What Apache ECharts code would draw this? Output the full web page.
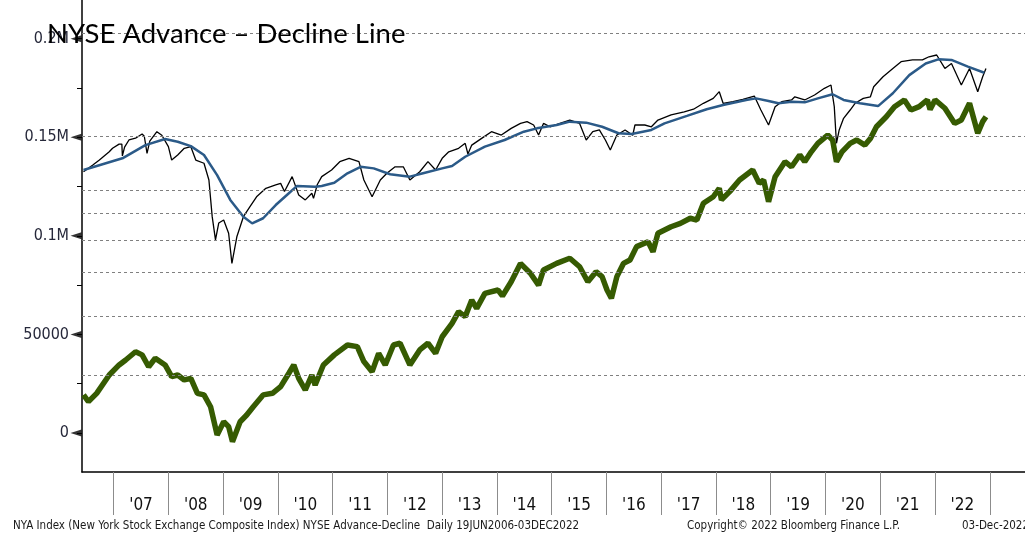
<!DOCTYPE html>
<html>
<head>
<meta charset="utf-8">
<title>NYSE Advance – Decline Line</title>
<script src="https://cdn.jsdelivr.net/npm/echarts@6.0.0/dist/echarts.min.js"></script>
<style>
  html, body { margin: 0; padding: 0; background: #fff; }
  #chart { width: 1025px; height: 542px; }
</style>
</head>
<body>
<div id="chart"></div>
<script>
// values in thousands, dates as decimal years

// NYA index (scaled onto the left axis) - black
var nyaDates = [2006.45,2006.62,2006.74,2006.92,2006.98,2007.10,2007.15,2007.16,2007.20,2007.28,
    2007.40,2007.52,2007.56,2007.61,2007.66,2007.79,2007.88,2008.00,2008.06,2008.17,
    2008.29,2008.41,2008.50,2008.65,2008.74,2008.80,2008.86,2008.92,2009.01,2009.10,
    2009.16,2009.25,2009.37,2009.49,2009.61,2009.78,2009.96,2010.05,2010.12,2010.26,
    2010.38,2010.50,2010.62,2010.65,2010.72,2010.80,2010.98,2011.13,2011.30,2011.48,
    2011.57,2011.72,2011.87,2011.99,2012.14,2012.29,2012.41,2012.59,2012.74,2012.88,
    2013.00,2013.12,2013.30,2013.42,2013.47,2013.54,2013.72,2013.90,2014.08,2014.26,
    2014.43,2014.55,2014.67,2014.76,2014.85,2014.97,2015.15,2015.33,2015.51,2015.63,
    2015.75,2015.87,2015.98,2016.07,2016.19,2016.34,2016.48,2016.52,2016.70,2016.82,
    2016.94,2017.18,2017.42,2017.59,2017.77,2017.95,2018.06,2018.13,2018.31,2018.49,
    2018.70,2018.82,2018.96,2019.08,2019.20,2019.38,2019.44,2019.62,2019.80,2019.98,
    2020.10,2020.16,2020.20,2020.25,2020.33,2020.45,2020.54,2020.69,2020.82,2020.88,
    2021.05,2021.23,2021.38,2021.59,2021.77,2021.89,2022.03,2022.18,2022.30,2022.48,
    2022.63,2022.78,2022.87,2022.93];
var nyaValues = [132.5,135.9,138.4,142.6,144.4,146.5,146.5,140.5,145.0,148.6,
    149.5,151.6,150.5,141.8,148.0,152.8,151.0,145.2,138.4,141.0,
    144.4,145.2,138.4,136.8,128.3,109.7,97.9,106.5,108.0,101.3,
    86.0,99.5,109.7,114.8,119.8,124.1,125.8,126.6,122.5,130.0,
    120.7,118.2,121.6,119.0,126.0,130.0,133.4,137.6,139.3,137.6,
    128.3,119.8,128.3,131.7,135.0,135.0,128.3,132.5,137.6,133.4,
    139.3,142.6,144.4,146.9,141.5,146.0,149.4,152.8,151.1,154.5,
    157.0,157.9,156.2,151.1,157.0,155.3,157.0,158.7,157.0,148.6,
    152.8,153.7,148.6,143.5,151.1,153.7,151.0,156.2,156.2,155.3,
    158.7,161.3,162.9,164.2,167.2,169.7,173.1,167.2,168.0,169.2,
    170.9,163.8,156.2,165.5,168.0,168.9,170.5,168.9,171.4,174.8,
    176.5,165.5,146.9,153.7,159.6,163.8,167.2,169.7,170.5,175.6,
    180.7,184.9,188.3,189.2,189.2,190.8,191.7,184.9,187.4,176.5,
    184.9,173.1,180.7,184.9];

// moving average of NYA - blue
var maDates = [2006.45,2007.16,2007.58,2007.94,2008.17,2008.41,2008.65,2008.89,2009.13,2009.37,
    2009.53,2009.73,2009.96,2010.20,2010.35,2010.68,2010.80,2011.03,2011.27,2011.51,
    2011.75,2012.05,2012.41,2012.65,2013.00,2013.18,2013.42,2013.78,2014.14,2014.49,
    2014.73,2015.09,2015.33,2015.63,2015.92,2016.22,2016.46,2016.82,2017.06,2017.47,
    2017.83,2018.13,2018.55,2018.73,2018.96,2019.14,2019.38,2019.62,2019.86,2020.13,
    2020.33,2020.63,2020.96,2021.23,2021.53,2021.83,2022.06,2022.30,2022.60,2022.90];
var maValues = [133.4,139.3,146.0,149.1,147.7,145.5,141.0,130.8,118.2,109.7,
    106.3,108.9,115.6,121.6,125.3,124.9,125.3,126.9,131.7,135.0,
    134.2,131.2,130.0,131.7,134.2,135.4,140.1,145.2,148.6,152.8,
    154.5,156.2,157.9,157.4,155.3,152.0,151.6,153.7,157.0,160.8,
    164.2,166.3,168.9,169.7,168.4,167.2,168.0,167.7,169.7,171.8,
    168.9,167.2,165.8,172.3,181.5,187.4,189.5,189.2,185.8,182.7];

// NYSE advance-decline line - green
var adDates = [2006.45,2006.54,2006.69,2006.92,2007.10,2007.22,2007.40,2007.52,2007.64,2007.76,
    2007.94,2008.06,2008.17,2008.29,2008.41,2008.53,2008.65,2008.77,2008.89,2009.01,
    2009.10,2009.17,2009.31,2009.43,2009.55,2009.73,2009.90,2010.05,2010.20,2010.29,
    2010.38,2010.50,2010.62,2010.68,2010.83,2011.03,2011.27,2011.45,2011.57,2011.72,
    2011.84,2011.96,2012.11,2012.23,2012.41,2012.59,2012.74,2012.88,2013.00,2013.18,
    2013.30,2013.42,2013.54,2013.63,2013.78,2014.02,2014.10,2014.26,2014.43,2014.61,
    2014.76,2014.85,2015.09,2015.33,2015.51,2015.66,2015.81,2015.92,2016.01,2016.09,
    2016.19,2016.31,2016.43,2016.55,2016.76,2016.85,2016.94,2017.18,2017.35,2017.53,
    2017.65,2017.77,2017.95,2018.06,2018.10,2018.25,2018.43,2018.67,2018.79,2018.87,
    2018.96,2019.08,2019.26,2019.38,2019.53,2019.62,2019.74,2019.86,2020.04,2020.13,
    2020.20,2020.30,2020.45,2020.57,2020.72,2020.82,2020.93,2021.11,2021.26,2021.44,
    2021.56,2021.71,2021.86,2021.91,2022.00,2022.18,2022.36,2022.48,2022.63,2022.78,
    2022.87,2022.93];
var adValues = [19.3,15.9,20.1,29.4,34.5,37.0,41.2,39.6,33.6,37.9,
    34.5,28.6,29.4,26.9,27.7,20.1,19.3,13.3,-1.0,5.7,
    3.2,-4.4,5.7,9.1,13.3,19.3,20.1,23.5,30.3,34.5,
    27.7,21.8,29.4,24.3,34.5,39.6,44.6,43.8,36.2,31.1,
    40.4,34.5,44.6,45.5,34.5,42.1,45.5,40.4,48.8,55.6,
    61.5,59.0,67.4,63.2,70.8,72.5,69.5,76.7,86.0,81.0,
    75.0,82.7,86.0,88.6,84.3,76.7,81.8,79.3,72.5,68.3,
    79.3,86.0,87.7,94.5,97.0,91.9,101.3,104.6,106.3,108.9,
    108.0,116.5,119.8,124.1,118.2,122.4,128.3,133.4,126.6,128.3,
    117.3,130.0,137.6,135.0,141.0,137.6,142.6,146.9,151.1,148.6,
    137.6,142.6,146.9,148.6,146.0,149.4,155.3,160.4,165.5,168.9,
    163.8,165.5,168.9,164.0,168.9,164.7,157.0,158.7,167.2,152.0,
    157.9,160.4];

// axes
var yearTicks = [2007,2008,2009,2010,2011,2012,2013,2014,2015,2016,2017,2018,2019,2020,2021,2022,2023];
var yearLabels = ["'07","'08","'09","'10","'11","'12","'13","'14","'15","'16","'17","'18","'19","'20","'21","'22"];
var yTickValues = [0,25,50,75,100,125,150,175,200];
var yLabelValues = [0,50,100,150,200];
var yLabels = ['0','50000','0.1M','0.15M','0.2M'];
var gridLevels = [202.8,150.6,123.2,111.6,97.9,81.6,59.3,29.4];

var X_MIN = 2006.4224, X_MAX = 2023.643;

function zip(xs, ys) {
    var out = [];
    for (var i = 0; i < xs.length; i++) out.push([xs[i], ys[i]]);
    return out;
}

var sideFont = "'DejaVu Sans Condensed', 'DejaVu Sans', sans-serif";
var footStyle = { fontFamily: sideFont, fontSize: 11.5, fontWeight: 'normal', color: '#1a1a1a' };

var dom = document.getElementById('chart');
var myChart = echarts.init(dom);
var option = {
    animation: false,
    backgroundColor: '#fff',
    title: [
        {
            text: 'NYSE Advance – Decline Line',
            left: 47, top: 20, padding: 0,
            textStyle: { fontFamily: 'Lato', fontSize: 27.5, fontWeight: 'normal', color: '#000' }
        },
        { text: 'NYA Index (New York Stock Exchange Composite Index) NYSE Advance-Decline  Daily 19JUN2006-03DEC2022',
          left: 13, top: 520, padding: 0, textStyle: footStyle },
        { text: 'Copyright© 2022 Bloomberg Finance L.P.', left: 687, top: 520, padding: 0, textStyle: footStyle },
        { text: '03-Dec-2022', left: 962, top: 520, padding: 0, textStyle: footStyle }
    ],
    grid: { left: 82, right: -20, top: 0, bottom: 70 },
    xAxis: {
        type: 'value',
        min: X_MIN,
        max: X_MAX,
        axisLine: { show: true, onZero: false, lineStyle: { color: '#000', width: 1.5 } },
        axisTick: { show: true, customValues: yearTicks, length: 43, lineStyle: { color: '#8c8c8c', width: 1 } },
        axisLabel: {
            customValues: yearTicks.slice(0, -1).map(function (y) { return y + 0.5; }),
            formatter: function (v) { return yearLabels[Math.floor(v) - 2007]; },
            margin: 25,
            fontSize: 17,
            fontFamily: sideFont,
            color: '#111'
        },
        splitLine: { show: false }
    },
    yAxis: {
        type: 'value',
        min: -19.8,
        max: 219.6,
        axisLine: { show: true, onZero: false, lineStyle: { color: '#000', width: 1.5 } },
        axisTick: { show: true, customValues: yTickValues, length: 5, lineStyle: { color: '#000' } },
        axisLabel: {
            customValues: yLabelValues,
            formatter: function (v) { return yLabels[yLabelValues.indexOf(v)]; },
            margin: 13,
            fontSize: 16,
            fontFamily: sideFont,
            color: '#26283a'
        },
        splitLine: { show: false }
    },
    series: [
        {
            name: 'grid',
            type: 'line',
            data: [],
            z: 1,
            markLine: {
                silent: true,
                symbol: 'none',
                label: { show: false },
                lineStyle: { type: [3, 3], color: '#808080', width: 1 },
                data: gridLevels.map(function (v) { return { yAxis: v }; })
            }
        },
        {
            name: 'NYSE Advance-Decline',
            type: 'line',
            data: zip(adDates, adValues),
            showSymbol: false,
            lineStyle: { color: '#365b02', width: 5.5 },
            z: 2
        },
        {
            name: 'NYA Index',
            type: 'line',
            data: zip(nyaDates, nyaValues),
            showSymbol: false,
            lineStyle: { color: '#000', width: 1.3 },
            z: 3
        },
        {
            name: 'Moving Average',
            type: 'line',
            data: zip(maDates, maValues),
            showSymbol: false,
            lineStyle: { color: '#2b5a88', width: 2.5 },
            z: 4
        },
        {
            name: 'majorTicks',
            type: 'scatter',
            clip: false,
            silent: true,
            data: yLabelValues.map(function (v) { return [X_MIN, v]; }),
            symbol: 'triangle',
            symbolRotate: 90,
            symbolSize: [7, 11],
            symbolOffset: [-6, 0],
            itemStyle: { color: '#000' },
            z: 5
        }
    ]
};
if (option && typeof option === "object") {
    myChart.setOption(option, true);
}
</script>
</body>
</html>
